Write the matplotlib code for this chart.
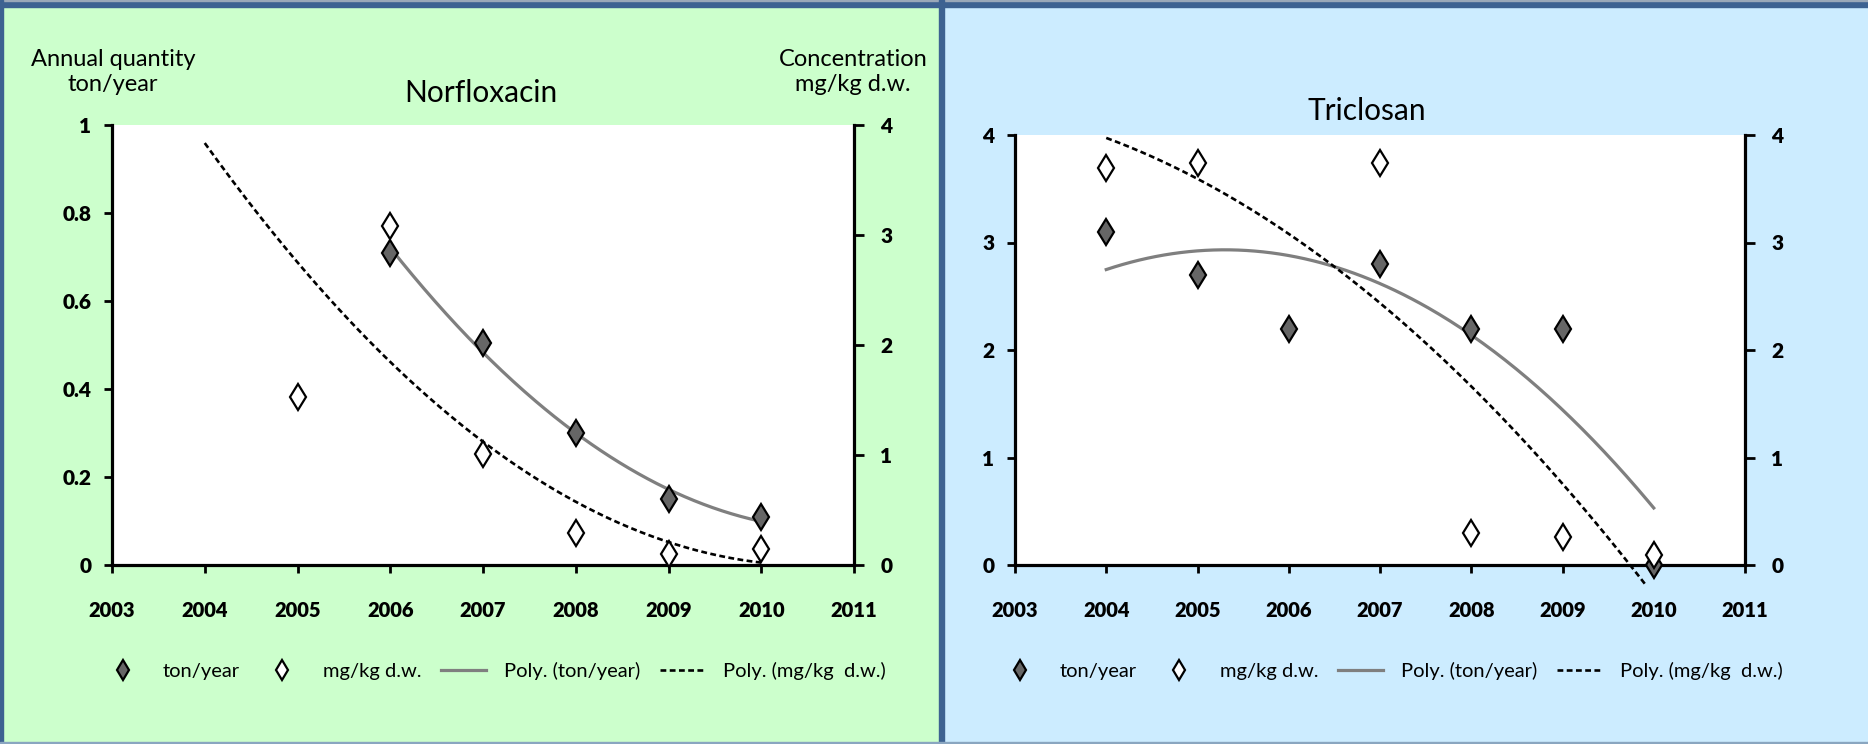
import numpy as np
import matplotlib
matplotlib.use("Agg")
import matplotlib.pyplot as plt
from matplotlib.patches import Rectangle
from matplotlib.lines import Line2D

plt.rcParams['font.family'] = ['Lato', 'DejaVu Sans']

# Norfloxacin
nor_ton_years = [2006, 2007, 2008, 2009, 2010]
nor_ton = [0.71, 0.505, 0.30, 0.15, 0.11]            # left axis, ton/year
nor_mg_years = [2005, 2006, 2007, 2008, 2009, 2010]
nor_mg = [1.53, 3.08, 1.01, 0.29, 0.10, 0.145]       # right axis, mg/kg d.w.
nor_mg_trend_years = [2004, 2005, 2006, 2007, 2008, 2009, 2010]
nor_mg_trend = [3.85, 2.73, 1.83, 1.16, 0.56, 0.21, 0.02]  # trendline

# Triclosan
tri_ton_years = [2004, 2005, 2006, 2007, 2008, 2009, 2010]
tri_ton = [3.1, 2.7, 2.2, 2.8, 2.2, 2.2, 0.0]
tri_mg_years = [2004, 2005, 2007, 2008, 2009, 2010]
tri_mg = [3.69, 3.74, 3.74, 0.30, 0.26, 0.09]
tri_ton_trend_years = [2004, 2005, 2006, 2007, 2008, 2009, 2010]
tri_ton_trend = [2.75, 2.92, 2.88, 2.61, 2.15, 1.44, 0.53]
tri_mg_trend_years = [2004, 2005, 2006, 2007, 2008, 2009]
tri_mg_trend = [3.97, 3.60, 3.08, 2.42, 1.68, 0.75]

year_ticks = list(range(2003, 2012))

W, H = 1868, 744
fig = plt.figure(figsize=(W / 100, H / 100), dpi=100)

# panel backgrounds and frame
fig.add_artist(Rectangle((0, 0), 941 / W, 1, transform=fig.transFigure, color='#CCFFCC', zorder=-10))
fig.add_artist(Rectangle((941 / W, 0), 1 - 941 / W, 1, transform=fig.transFigure, color='#CCECFF', zorder=-10))
blue = '#3D6291'
fig.add_artist(Rectangle((0, 1 - 7 / H), 1, 6 / H, transform=fig.transFigure, color=blue, zorder=-5))
fig.add_artist(Rectangle((0, 1 - 1 / H), 1, 1 / H, transform=fig.transFigure, color='#9AA8B8', zorder=-5))
fig.add_artist(Rectangle((0, 0), 3 / W, 1, transform=fig.transFigure, color=blue, zorder=-5))
fig.add_artist(Rectangle((939 / W, 0), 5 / W, 1, transform=fig.transFigure, color=blue, zorder=-5))
fig.add_artist(Rectangle((0, 0), 1, 2 / H, transform=fig.transFigure, color='#8AA6C0', zorder=-5))

fill_c = '#666666'
trend_c = '#7F7F7F'
mk = dict(marker='d', markersize=13, markeredgecolor='black', markeredgewidth=1.6, linestyle='none')
dash = (0, (2.2, 1.3))


def style_axes(ax, ax2, ylim_left, ylim_right, left_ticks, right_ticks, left_fmt):
    ax.set_facecolor('white')
    ax.set_xlim(2003, 2011)
    ax.set_ylim(*ylim_left)
    ax2.set_ylim(*ylim_right)
    ax.set_xticks(year_ticks)
    ax.set_yticks(left_ticks)
    ax.set_yticklabels([left_fmt(v) for v in left_ticks])
    ax2.set_yticks(right_ticks)
    ax2.set_yticklabels([str(v) for v in right_ticks])
    for a in (ax, ax2):
        a.spines['top'].set_visible(False)
        for s in ('left', 'right', 'bottom'):
            a.spines[s].set_linewidth(2.3)
        for lab in a.get_xticklabels() + a.get_yticklabels():
            lab.set_fontweight('heavy')
    ax.spines['right'].set_visible(False)
    ax2.spines['left'].set_visible(False)
    ax2.spines['bottom'].set_visible(False)
    ax.tick_params(axis='x', direction='out', length=6, width=2, labelsize=14.5, pad=20)
    ax.tick_params(axis='y', direction='out', length=6, width=2, labelsize=15, pad=9)
    ax2.tick_params(axis='y', direction='out', length=7, width=2, labelsize=15, pad=12)


def quad_curve(xs, ys, x0, x1):
    c = np.polyfit(xs, ys, 2)
    xx = np.linspace(x0, x1, 200)
    return xx, np.polyval(c, xx)


# ---------------- Norfloxacin ----------------
ax = fig.add_axes([112 / W, 1 - 565 / H, (854 - 112) / W, (565 - 125) / H])
ax2 = ax.twinx()
style_axes(ax, ax2, (0, 1), (0, 4), [0, 0.2, 0.4, 0.6, 0.8, 1], [0, 1, 2, 3, 4],
           lambda v: '0' if v == 0 else ('1' if v == 1 else f'{v:.1f}'))
ax.set_zorder(ax2.get_zorder() - 1)
ax2.patch.set_visible(False)

xx, yy = quad_curve(nor_ton_years, nor_ton, 2006, 2010)
ax2.plot(xx, yy * 4, color=trend_c, lw=2.3, zorder=3)
xx, yy = quad_curve(nor_mg_trend_years, nor_mg_trend, 2004, 2010)
ax2.plot(xx, yy, color='black', lw=1.9, linestyle=dash, zorder=3)
ax2.plot(nor_ton_years, np.array(nor_ton) * 4, markerfacecolor=fill_c, zorder=5, clip_on=False, **mk)
ax2.plot(nor_mg_years, nor_mg, markerfacecolor='white', zorder=5, clip_on=False, **mk)

fig.text(481 / W, 1 - 93 / H, 'Norfloxacin', fontsize=21.5, ha='center', va='center')
fig.text(113 / W, 1 - 72 / H, 'Annual quantity\nton/year', fontsize=17, ha='center', va='center',
         linespacing=1.25)
fig.text(853 / W, 1 - 72 / H, 'Concentration\nmg/kg d.w.', fontsize=17, ha='center', va='center',
         linespacing=1.25)

# ---------------- Triclosan ----------------
bx = fig.add_axes([1015 / W, 1 - 565 / H, (1745 - 1015) / W, (565 - 135) / H])
bx2 = bx.twinx()
style_axes(bx, bx2, (0, 4), (0, 4), [0, 1, 2, 3, 4], [0, 1, 2, 3, 4], lambda v: str(v))
bx.set_zorder(bx2.get_zorder() - 1)
bx2.patch.set_visible(False)

xx, yy = quad_curve(tri_ton_trend_years, tri_ton_trend, 2004, 2010)
bx2.plot(xx, yy, color=trend_c, lw=2.3, zorder=3)
xx, yy = quad_curve(tri_mg_trend_years, tri_mg_trend, 2004, 2010)
keep = yy >= -0.2
bx2.plot(xx[keep], yy[keep], color='black', lw=1.9, linestyle=dash, zorder=3, clip_on=False)
bx2.plot(tri_ton_years, tri_ton, markerfacecolor=fill_c, zorder=5, clip_on=False, **mk)
bx2.plot(tri_mg_years, tri_mg, markerfacecolor='white', zorder=5, clip_on=False, **mk)

fig.text(1367 / W, 1 - 111 / H, 'Triclosan', fontsize=21.5, ha='center', va='center')

# ---------------- legends ----------------
handles = [
    Line2D([], [], markerfacecolor=fill_c, **mk),
    Line2D([], [], markerfacecolor='white', **mk),
    Line2D([], [], color=trend_c, lw=2.3),
    Line2D([], [], color='black', lw=1.9, linestyle=dash),
]
labels = ['ton/year', 'mg/kg d.w.', 'Poly. (ton/year)', 'Poly. (mg/kg  d.w.)']
for cx in (493, 1390):
    fig.legend(handles, labels, loc='center', bbox_to_anchor=(cx / W, 1 - 671 / H), ncol=4,
               frameon=False, fontsize=14.5, handlelength=2.2, columnspacing=1.0, handletextpad=0.9,
               markerscale=0.8)

fig.savefig('out.png', dpi=100)
